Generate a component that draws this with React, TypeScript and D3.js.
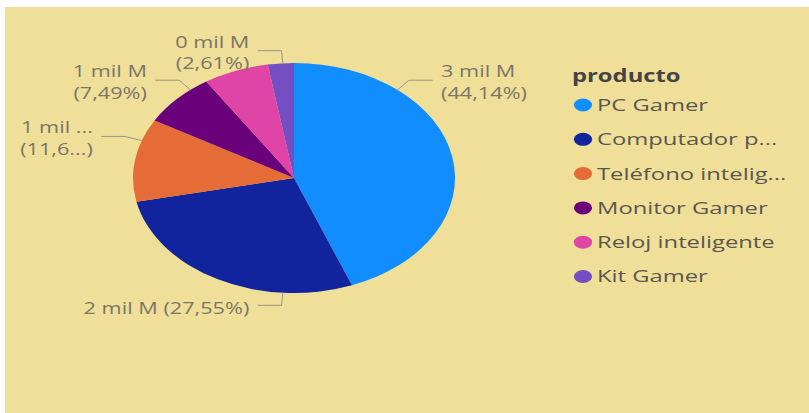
import React from "react";
import * as d3 from "d3";

const categories = [
  "PC Gamer",
  "Computador portátil",
  "Teléfono inteligente",
  "Monitor Gamer",
  "Reloj inteligente",
  "Kit Gamer",
];
// sales in millions (mil M = thousands of millions)
const sales = [3310.5, 2066.25, 873.75, 561.75, 492, 195.75];
const colors = ["#118DFF", "#12239E", "#E66C37", "#6B007B", "#E044A7", "#744EC2"];
const legendTitle = "producto";

const W = 809;
const H = 413;
const SX = 1.4; // horizontal stretch of the original image
const FONT = "'Open Sans', 'Noto Sans', sans-serif";

let _ctx: CanvasRenderingContext2D | null = null;
function measure(text: string, font: string) {
  if (!_ctx) _ctx = document.createElement("canvas").getContext("2d");
  _ctx!.font = font;
  return _ctx!.measureText(text).width;
}
function fit(text: string, maxW: number, font: string) {
  if (measure(text, font) <= maxW) return text;
  for (let n = text.length - 1; n > 0; n--) {
    const t = text.slice(0, n) + "...";
    if (measure(t, font) <= maxW) return t;
  }
  return "...";
}
const ellipsize = (s: string, n: number) => s.slice(0, n) + "...";

export default function App() {
  const cx = 294 / SX;
  const cy = 178;
  const R = 115;
  const total = d3.sum(sales);
  const pie = d3.pie<number>().sort(null).value((d) => d)(sales);
  const arc = d3.arc<d3.PieArcDatum<number>>().innerRadius(0).outerRadius(R);

  // label placement (angle in degrees on the pie, clockwise from top)
  const labelLayout: ({ angle: number; lines: number; clip?: [number, number] } | null)[] = [
    { angle: 40, lines: 2 },
    { angle: 184, lines: 1 },
    { angle: 289, lines: 2, clip: [6, 4] },
    { angle: 320, lines: 2 },
    null,
    { angle: 356, lines: 2 },
  ];

  const labelFontSize = 15.5;
  const legendFontSize = 17;
  const legendFont = `${legendFontSize}px 'Open Sans'`;
  const legendTextX = 597 / SX;
  const legendMaxW = 137.5;

  return (
    <svg
      width={W}
      height={H}
      style={{ position: "absolute", left: 0, top: 0, background: "#fff" }}
    >
      <rect x={5} y={7} width={W - 5} height={H - 7} fill="#EFDF98" />
      <g transform={`scale(${SX},1)`}>
        <g transform={`translate(${cx},${cy})`}>
          {pie.map((p, i) => (
            <path key={i} d={arc(p) || ""} fill={colors[i]} />
          ))}
          {pie.map((p, i) => {
            const L = labelLayout[i];
            if (!L) return null;
            const a = (L.angle * Math.PI) / 180;
            const side = Math.sin(a) >= 0 ? 1 : -1;
            const x0 = R * Math.sin(a);
            const y0 = -R * Math.cos(a);
            const x1 = R * 1.11 * Math.sin(a);
            const y1 = -R * 1.11 * Math.cos(a);
            const x2 = x1 + side * 17;
            const tx = x2 + side * 6;
            const v = sales[i];
            let valTxt = `${Math.round(v / 1000)} mil M`;
            let pctInner = `${((v / total) * 100).toFixed(2).replace(".", ",")}%`;
            if (L.clip) {
              valTxt = ellipsize(valTxt, L.clip[0]);
              pctInner = ellipsize(pctInner, L.clip[1]);
            }
            const pctTxt = `(${pctInner})`;
            const anchor = side > 0 ? "start" : "end";
            return (
              <g key={"l" + i}>
                <polyline
                  points={`${x0},${y0} ${x1},${y1} ${x2},${y1}`}
                  fill="none"
                  stroke="#9c9886"
                  strokeWidth={1}
                  vectorEffect="non-scaling-stroke"
                />
                {L.lines === 2 ? (
                  <text
                    x={tx}
                    y={y1 - 3}
                    textAnchor={anchor}
                    fontFamily={FONT}
                    fontSize={labelFontSize}
                    fill="#7a7668"
                  >
                    <tspan x={tx} y={y1 - 3}>{valTxt}</tspan>
                    <tspan x={tx} y={y1 + 18.5}>{pctTxt}</tspan>
                  </text>
                ) : (
                  <text
                    x={tx}
                    y={y1 + 9}
                    textAnchor={anchor}
                    fontFamily={FONT}
                    fontSize={labelFontSize}
                    fill="#7a7668"
                  >
                    {`${valTxt} ${pctTxt}`}
                  </text>
                )}
              </g>
            );
          })}
        </g>
        <g>
          <text
            x={572 / SX}
            y={82}
            fontFamily={FONT}
            fontSize={legendFontSize}
            fontWeight="bold"
            fill="#444"
          >
            {legendTitle}
          </text>
          {categories.map((c, i) => {
            const y = 105 + i * 34.3;
            return (
              <g key={"lg" + i}>
                <circle cx={583 / SX} cy={y} r={6.5} fill={colors[i]} />
                <text
                  x={legendTextX}
                  y={y}
                  dy="0.35em"
                  fontFamily={FONT}
                  fontSize={legendFontSize}
                  fill="#5a5750"
                >
                  {fit(c, legendMaxW, legendFont)}
                </text>
              </g>
            );
          })}
        </g>
      </g>
    </svg>
  );
}
